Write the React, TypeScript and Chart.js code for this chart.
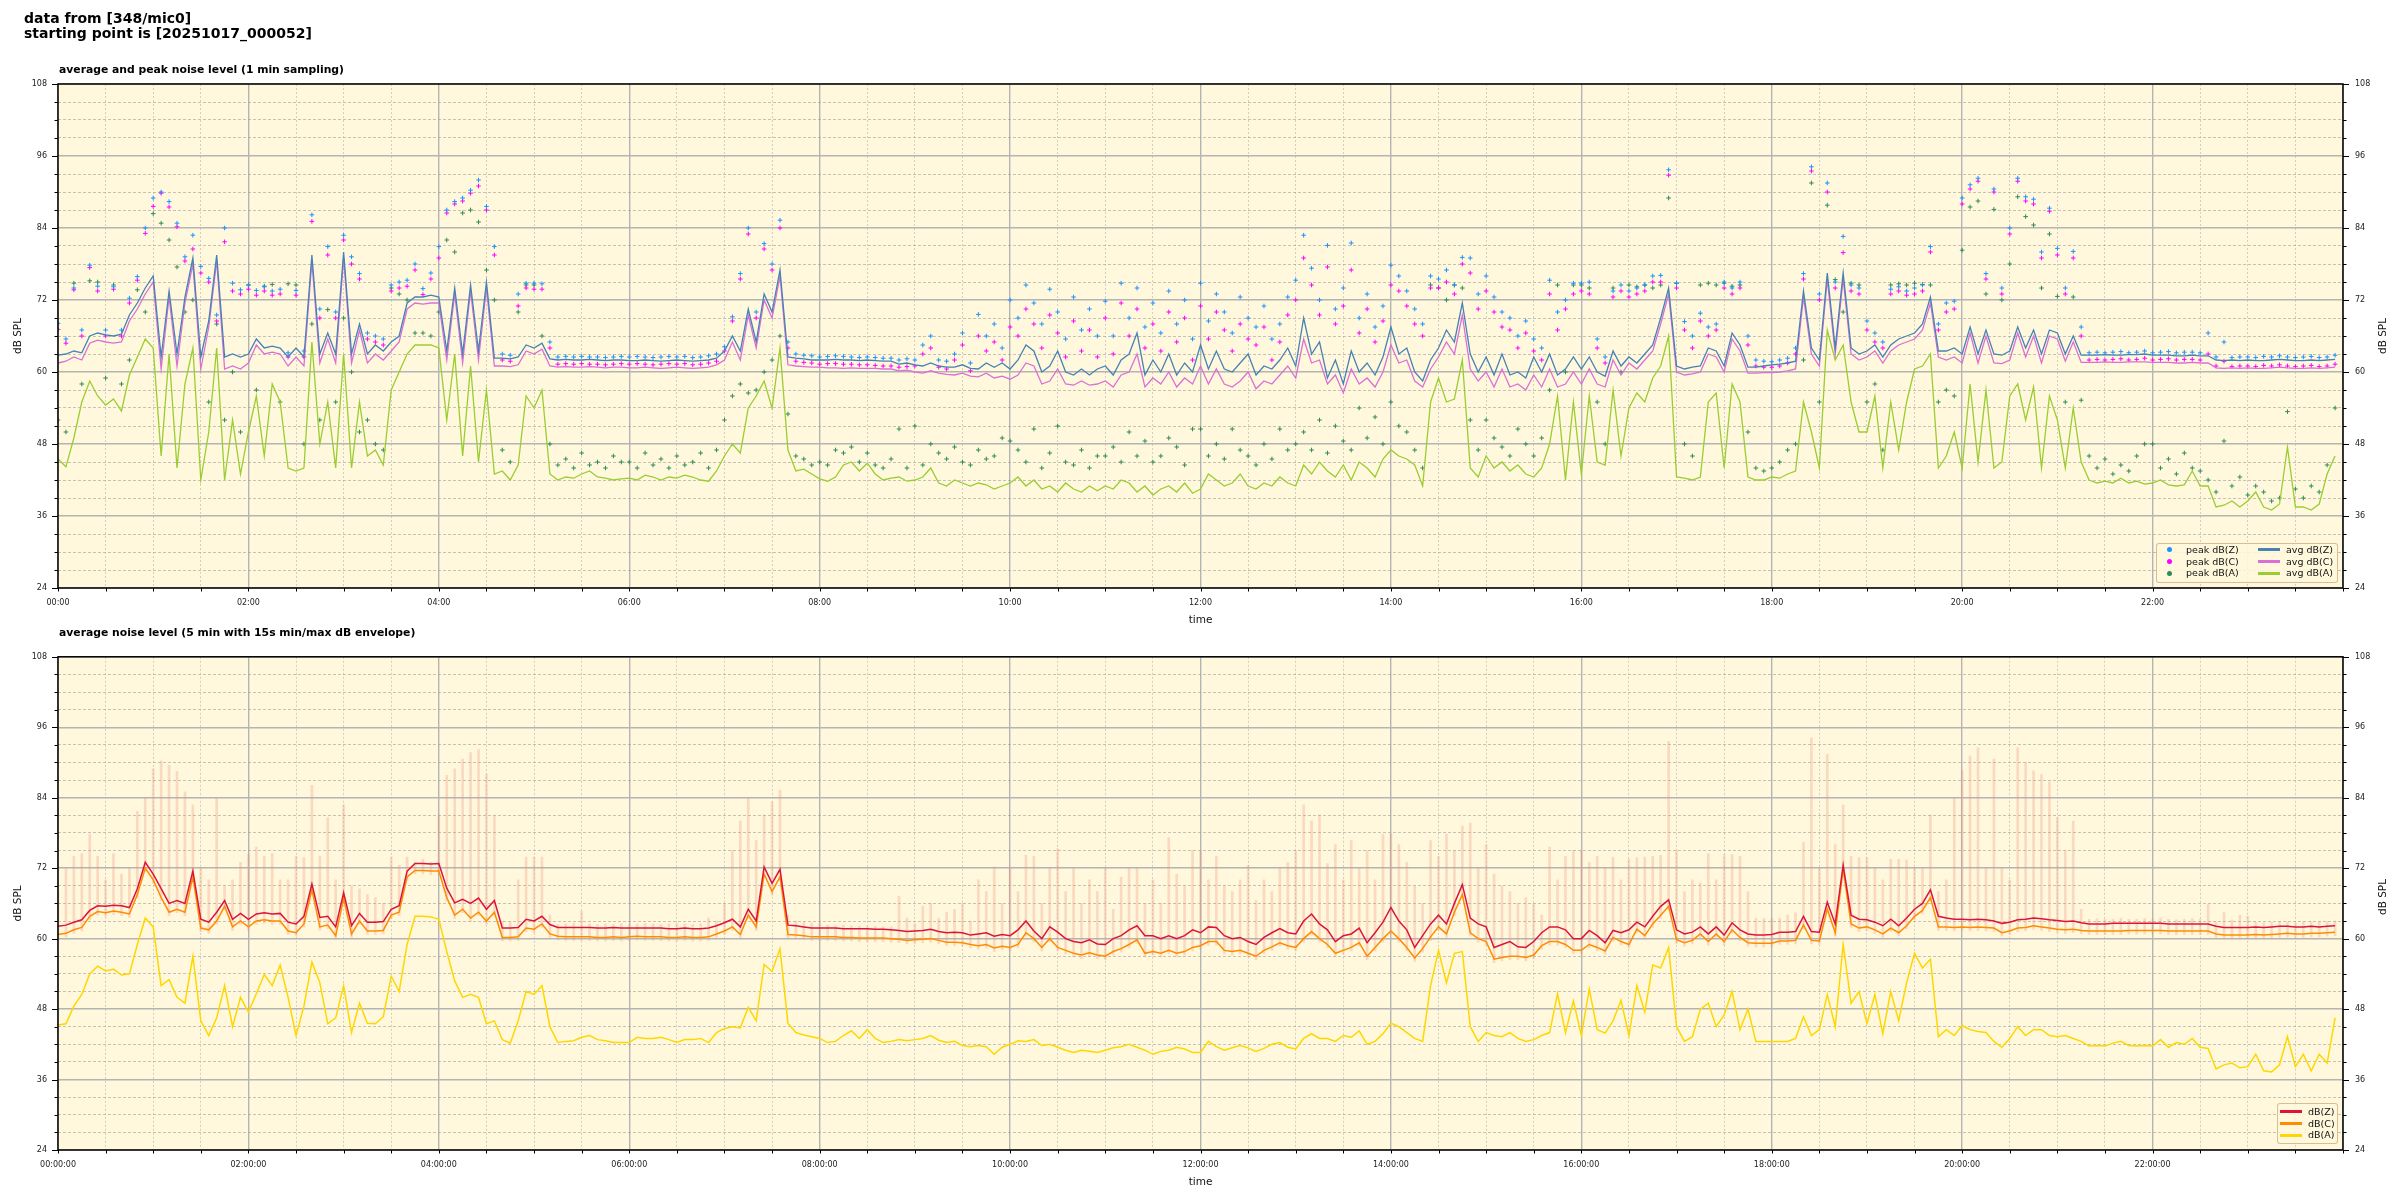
import React, { useEffect, useRef } from "react";
import { Chart, registerables } from "chart.js";

Chart.register(...registerables);

// ---------- categories / tick labels ----------
const STEP_MIN = 5; // one value every 5 minutes
const X_MAX = 1440;
const topTickLabels = ["00:00", "02:00", "04:00", "06:00", "08:00", "10:00", "12:00", "14:00", "16:00", "18:00", "20:00", "22:00"];
const bottomTickLabels = ["00:00:00", "02:00:00", "04:00:00", "06:00:00", "08:00:00", "10:00:00", "12:00:00", "14:00:00", "16:00:00", "18:00:00", "20:00:00", "22:00:00"];
const yTickLabels = ["24", "36", "48", "60", "72", "84", "96", "108"];

// ---------- top chart: 1 min sampling (read every 5 min) ----------
const avgZ = [
  62.8, 63.0, 63.5, 63.2, 66.0, 66.5, 66.2, 66.0, 66.3, 69.5, 71.5, 74.0,
  76.0, 62.5, 73.5, 63.0, 72.5, 79.0, 62.5, 68.5, 79.5, 62.5, 63.0, 62.5,
  63.0, 65.5, 64.0, 64.3, 64.0, 62.5, 64.0, 62.5, 79.5, 63.0, 66.5, 63.0,
  80.0, 63.0, 68.0, 63.0, 64.5, 63.5, 65.0, 66.0, 71.5, 72.5, 72.5, 72.8,
  72.5, 63.5, 74.0, 63.0, 74.5, 63.5, 75.0, 62.3, 62.3, 62.2, 62.5, 64.5,
  64.0, 64.8, 62.2, 62.0, 62.1, 62.0, 62.0, 62.1, 62.0, 61.9, 62.0, 62.0,
  61.9, 61.9, 62.0, 61.9, 61.8, 61.9, 62.0, 61.9, 61.8, 61.9, 62.0, 62.3,
  63.5, 66.0, 63.5, 70.5, 65.0, 73.0, 70.0, 77.0, 62.5, 62.3, 62.2, 62.0,
  62.0, 62.0, 62.1, 62.0, 62.0, 61.9, 62.0, 61.9, 61.8, 61.8, 61.3, 61.5,
  61.2, 61.0, 61.5, 61.0, 60.8, 60.8, 61.2, 60.6, 60.5, 61.5, 60.8, 61.5,
  60.5, 62.0, 64.5, 63.5, 60.0, 61.0, 63.5, 60.0, 59.5, 60.5, 59.5, 60.5,
  61.0, 59.5, 62.0, 63.0, 66.5, 59.5, 62.0, 60.0, 63.0, 59.5, 61.5, 60.0,
  64.5, 60.5, 63.5, 60.5, 60.0, 61.5, 63.0, 59.5, 61.0, 60.5, 62.0, 64.0,
  61.0, 69.0, 63.0, 65.0, 59.0, 62.0, 58.0, 63.5, 60.0, 61.5, 59.5, 62.5,
  67.5, 63.0, 64.0, 60.0, 58.5, 62.0, 64.0, 67.0, 65.0, 71.5, 63.0, 60.0,
  62.5, 59.5, 63.0, 59.5, 60.0, 59.0, 62.5, 60.0, 63.0, 59.5, 60.5, 62.5,
  60.5, 62.5, 60.0, 59.3, 63.5, 61.0, 62.5, 61.5, 63.0, 64.5, 69.0, 74.0,
  61.0, 60.5, 60.8, 61.0, 64.0, 63.5, 61.0, 66.5, 64.5, 60.8, 60.8, 61.0,
  61.2, 61.3, 61.5, 61.8, 73.5, 64.0, 62.0, 76.5, 64.0, 76.5, 64.0, 63.0,
  63.5, 64.5, 62.5, 64.5, 65.5, 66.0, 66.5, 68.0, 72.5, 63.5, 63.5, 64.0,
  63.0, 67.5, 63.0, 67.0, 63.0, 62.8, 63.5, 67.5, 64.0, 67.0, 63.0, 67.0,
  66.5, 63.0, 66.0, 62.8, 62.8, 62.8, 62.9, 62.8, 62.8, 62.9, 62.9, 63.0,
  62.8, 62.8, 62.8, 62.7, 62.7, 62.8, 62.7, 62.7, 62.0, 61.9, 62.0, 61.9,
  62.0, 61.9, 61.9, 62.0, 62.1, 62.0, 61.9, 61.9, 62.0, 61.9, 62.0, 62.1,
];
const avgC = [
  61.5, 61.8, 62.5, 62.0, 64.8, 65.3, 65.0, 64.8, 65.0, 68.5, 70.5, 73.0,
  75.0, 60.5, 72.5, 61.0, 71.5, 78.0, 60.5, 67.5, 78.5, 60.5, 61.0, 60.5,
  61.5, 64.5, 63.0, 63.3, 63.0, 61.0, 62.5, 61.0, 78.5, 61.5, 65.5, 61.5,
  79.0, 61.5, 67.0, 61.5, 63.0, 62.0, 63.5, 65.0, 70.5, 71.5, 71.3, 71.5,
  71.5, 62.0, 73.0, 61.5, 73.5, 62.0, 74.0, 61.0, 61.0, 60.9, 61.2, 63.5,
  63.0, 63.8, 61.0, 60.8, 60.9, 60.8, 60.8, 60.9, 60.8, 60.7, 60.8, 60.8,
  60.7, 60.7, 60.8, 60.7, 60.6, 60.7, 60.8, 60.7, 60.6, 60.7, 60.8, 61.2,
  62.0, 65.0, 62.0, 69.5, 64.0, 72.0, 69.0, 76.0, 61.2, 61.0, 60.9, 60.8,
  60.8, 60.7, 60.7, 60.6, 60.7, 60.6, 60.6, 60.6, 60.5, 60.5, 60.2, 60.3,
  60.0, 59.8, 60.2, 59.8, 59.6, 59.5, 59.8, 59.3, 59.2, 59.8, 59.0, 59.3,
  58.8, 59.5, 61.5, 61.0, 58.0, 58.5, 60.5, 58.0, 57.8, 58.5, 57.8, 58.0,
  58.5, 57.5, 59.5, 60.0, 63.0, 57.5, 59.0, 58.0, 60.0, 57.5, 59.0, 58.0,
  61.0, 58.0, 60.5, 58.0, 57.5, 58.5, 60.0, 57.2, 58.5, 58.0, 59.5, 61.0,
  59.0, 65.5, 61.5, 62.0, 58.0, 59.5, 56.5, 60.5, 58.0, 59.0, 57.5, 60.0,
  64.5, 61.5, 62.0, 58.5, 57.5, 60.5, 62.5, 65.0, 63.0, 69.5, 60.5, 58.5,
  60.0, 57.5, 60.5, 57.5, 58.0, 57.0, 59.5, 57.5, 60.5, 57.5, 58.0, 60.0,
  58.0, 60.5, 58.0, 57.5, 62.0, 59.5, 61.5, 60.5, 62.0, 63.5, 68.0, 73.0,
  60.0, 59.5, 59.7, 60.0, 63.0, 62.5, 60.0, 65.5, 63.5, 59.8, 59.8, 59.9,
  59.9, 60.0, 60.2, 60.5, 72.5, 63.0, 61.0, 75.5, 63.0, 75.5, 63.0, 62.0,
  62.5, 63.5, 61.5, 63.5, 64.5, 65.0, 65.5, 67.0, 71.5, 62.5, 62.0, 62.5,
  61.5, 66.5, 61.5, 66.0, 61.5, 61.4, 62.0, 66.5, 62.5, 66.0, 61.5, 66.0,
  65.5, 61.8, 65.0, 61.6, 61.6, 61.6, 61.7, 61.6, 61.6, 61.7, 61.7, 61.7,
  61.6, 61.6, 61.6, 61.5, 61.5, 61.6, 61.5, 61.5, 60.7, 60.6, 60.7, 60.6,
  60.7, 60.6, 60.6, 60.7, 60.8, 60.7, 60.6, 60.6, 60.7, 60.6, 60.7, 60.8,
];
const avgA = [
  45.5, 44.2, 49.0, 55.0, 58.5, 56.0, 54.5, 55.5, 53.5, 59.5, 62.5, 65.5,
  64.0, 46.0, 63.0, 44.0, 58.0, 64.0, 42.0, 50.0, 64.0, 42.0, 52.0, 43.0,
  50.0, 56.0, 46.0, 58.0, 55.0, 44.0, 43.5, 44.0, 65.0, 48.0, 55.0, 44.0,
  63.0, 44.0, 55.0, 46.0, 47.0, 44.5, 57.0, 60.0, 63.0, 64.5, 64.5, 64.5,
  64.0, 52.0, 63.0, 46.0, 61.0, 45.0, 57.0, 43.0, 43.5, 42.0, 44.5, 56.0,
  54.0, 57.0, 43.0, 42.0, 42.5, 42.3, 43.0, 43.5, 42.5, 42.3, 42.0, 42.2,
  42.3, 42.0, 42.8, 42.5, 42.0, 42.5, 42.3, 42.8, 42.5, 42.0, 41.8, 43.5,
  46.0, 48.0, 46.5, 54.0, 56.0, 58.5, 54.0, 64.0, 47.0, 43.5, 43.8, 43.0,
  42.2, 41.8, 42.5, 44.5, 45.0, 43.5, 44.8, 43.0, 42.0, 42.3, 42.5, 41.8,
  42.0, 42.5, 44.0, 41.5, 41.0, 42.0, 41.5, 41.0, 41.5, 41.2, 40.5, 41.0,
  41.5, 42.5, 41.0, 42.0, 40.5, 41.0, 40.0, 41.5, 40.5, 40.0, 41.0, 40.2,
  41.0, 40.5, 42.0, 41.5, 40.0, 41.0, 39.5, 40.5, 41.0, 40.0, 41.5, 39.8,
  40.5, 43.0, 42.0, 41.0, 41.5, 43.0, 41.0, 40.5, 41.5, 41.0, 42.5, 41.5,
  41.0, 44.5, 43.0, 45.0, 43.5, 42.5, 44.5, 42.0, 45.0, 44.0, 42.5, 45.5,
  47.0, 46.0, 45.5, 44.5, 41.0, 55.0, 59.0, 55.0, 55.5, 62.0, 44.0, 42.5,
  46.0, 44.0, 45.0, 43.5, 44.5, 43.0, 42.5, 44.0, 48.0, 56.0, 42.0, 55.0,
  43.0, 56.0, 45.0, 44.5, 57.0, 46.0, 54.0, 56.5, 55.0, 59.0, 61.0, 66.0,
  42.5, 42.3, 42.0, 42.5, 55.0, 56.5, 44.0, 58.0, 55.0, 42.5, 42.0, 42.0,
  42.5, 42.3, 43.0, 43.5, 55.0, 50.0, 44.0, 67.0, 62.0, 64.5, 55.0, 50.0,
  50.0, 56.0, 44.0, 55.0, 47.0, 55.0, 60.5, 61.0, 63.0, 44.0, 46.0, 50.0,
  44.0, 58.0, 45.0, 57.0, 44.0, 45.0, 56.0, 58.0, 52.0, 57.5, 44.0, 56.0,
  52.0, 44.0, 54.0, 45.0, 42.0, 41.5, 41.8, 41.5, 42.3, 41.5, 41.8, 41.3,
  41.5, 42.0, 41.2, 41.0, 41.2, 43.5, 41.0, 41.0, 37.5, 37.8, 38.5, 37.5,
  38.5, 40.0, 37.5, 37.0, 38.0, 47.5, 37.5, 37.5, 37.0, 38.0, 43.0, 46.0,
];
const peakZ = [
  68.1, 65.5, 74.0, 67.0, 77.8, 74.3, 67.0, 74.2, 67.0, 72.3, 75.9, 84.0,
  89.0, 90.0, 88.4, 84.8, 79.2, 82.8, 77.6, 75.6, 69.5, 84.0, 74.8, 73.7,
  74.5, 73.6, 74.2, 73.5, 73.8, 63.2, 73.6, 63.5, 86.2, 70.5, 80.9, 70.0,
  82.8, 79.2, 76.4, 66.5, 66.0, 65.5, 74.5, 75.0, 75.3, 78.0, 73.9, 76.5,
  80.9, 87.0, 88.4, 89.0, 90.3, 92.0, 87.6, 80.9, 63.0, 62.8, 73.0, 74.8,
  74.8, 74.7, 65.0, 62.5, 62.6, 62.5, 62.6, 62.5, 62.5, 62.4, 62.5, 62.6,
  62.5, 62.6, 62.5, 62.4, 62.5, 62.6, 62.5, 62.6, 62.4, 62.5, 62.7, 63.0,
  64.2, 69.2, 76.4, 84.0, 70.0, 81.4, 78.0, 85.3, 65.0, 63.0, 62.8, 62.7,
  62.5, 62.6, 62.7, 62.6, 62.5, 62.4, 62.5, 62.4, 62.3, 62.3, 62.0, 62.2,
  62.0, 64.5, 66.0, 62.0, 61.8, 63.0, 66.5, 61.5, 69.6, 66.0, 68.0, 64.0,
  72.0, 69.0, 74.5, 71.5, 68.0, 73.8, 70.0, 65.5, 72.5, 67.0, 70.5, 66.0,
  71.8, 66.0, 74.8, 69.0, 74.0, 67.5, 71.5, 66.5, 73.5, 68.0, 72.0, 65.5,
  74.8, 68.5, 73.0, 70.0, 66.5, 72.5, 69.0, 67.5, 71.0, 65.5, 68.0, 72.5,
  75.3, 82.8, 77.3, 72.0, 81.1, 70.5, 74.0, 81.5, 69.0, 73.0, 67.5, 71.0,
  77.8, 76.0, 73.5, 70.5, 68.0, 76.0, 75.5, 77.0, 74.5, 79.1, 79.0, 73.0,
  76.0, 72.5, 70.0, 69.0, 66.0, 68.5, 65.5, 64.0, 75.3, 70.0, 72.0, 74.8,
  74.8, 75.0, 65.5, 62.5, 73.5, 74.5, 73.5, 74.0, 74.5, 76.0, 76.1, 93.7,
  74.8, 68.4, 66.0, 69.8, 67.5, 68.0, 75.0, 74.0, 75.0, 66.0, 62.0, 61.8,
  61.7, 62.0, 62.3, 64.0, 76.4, 94.2, 73.0, 91.5, 75.0, 82.6, 74.5, 74.0,
  68.5, 66.5, 65.0, 73.8, 74.2, 73.5, 74.0, 74.5, 80.9, 68.0, 71.5, 71.8,
  89.0, 91.2, 92.3, 76.4, 90.5, 74.0, 84.0, 92.3, 89.2, 88.8, 80.0, 87.3,
  80.6, 74.0, 80.1, 67.5, 63.2, 63.3, 63.2, 63.3, 63.4, 63.2, 63.3, 63.5,
  63.2, 63.3, 63.4, 63.2, 63.3, 63.3, 63.2, 66.5, 62.5, 65.0, 62.4, 62.5,
  62.5, 62.4, 62.6, 62.5, 62.7, 62.5, 62.4, 62.5, 62.6, 62.4, 62.5, 62.8,
];
const peakC = [
  67.1, 64.8, 73.7, 66.0, 77.4, 73.5, 66.0, 73.8, 66.0, 71.5, 75.3, 83.1,
  87.6, 89.8, 87.5, 84.2, 78.5, 80.5, 76.5, 75.0, 68.5, 81.7, 73.5, 73.0,
  73.8, 72.8, 73.5, 72.8, 73.0, 62.5, 72.8, 62.5, 85.1, 69.0, 79.5, 69.0,
  82.0, 78.0, 75.5, 65.5, 65.0, 64.5, 73.5, 74.0, 74.3, 77.0, 72.9, 75.5,
  79.0, 86.5, 88.0, 88.5, 89.8, 91.0, 87.0, 79.5, 62.0, 61.8, 71.0, 74.0,
  73.8, 73.8, 64.0, 61.3, 61.4, 61.3, 61.4, 61.3, 61.3, 61.2, 61.3, 61.4,
  61.3, 61.4, 61.3, 61.2, 61.3, 61.4, 61.3, 61.4, 61.2, 61.3, 61.5, 61.8,
  63.5, 68.5, 75.5, 83.0, 69.0, 80.5, 77.0, 84.0, 64.0, 61.8, 61.6, 61.5,
  61.3, 61.4, 61.4, 61.3, 61.3, 61.2, 61.2, 61.1, 61.0, 61.0, 60.8, 60.9,
  61.0, 63.0, 64.0, 60.8, 60.5, 62.0, 64.5, 60.2, 66.0, 63.5, 65.0, 62.0,
  67.5, 66.0, 70.5, 68.0, 64.0, 69.5, 66.5, 62.5, 68.5, 63.5, 67.0, 62.5,
  69.0, 63.0, 71.5, 66.0, 70.5, 64.0, 68.0, 63.5, 70.0, 65.0, 69.0, 62.0,
  71.0, 65.5, 70.0, 67.0, 63.5, 68.0, 65.5, 64.5, 67.5, 62.0, 65.0, 69.5,
  72.0, 79.0, 74.5, 69.5, 77.5, 68.0, 71.0, 77.0, 66.5, 70.5, 65.0, 68.5,
  74.5, 73.5, 71.0, 68.0, 66.0, 74.0, 74.0, 75.0, 73.0, 78.0, 76.5, 70.5,
  73.5, 70.0, 67.5, 67.0, 64.0, 66.5, 63.5, 62.0, 73.0, 67.0, 70.5, 73.0,
  73.5, 73.0, 64.0, 61.5, 72.5, 73.5, 72.5, 73.0, 73.5, 75.0, 75.0, 92.8,
  74.0, 67.0, 64.0, 68.5, 66.0, 67.0, 74.0, 73.0, 74.0, 64.5, 61.0, 60.8,
  60.8, 61.0, 61.5, 63.0, 75.5, 93.5, 72.0, 90.0, 74.0, 79.9, 73.5, 73.0,
  67.0, 65.0, 64.0, 73.0, 73.5, 72.8, 73.0, 73.5, 80.0, 67.0, 70.0, 70.5,
  88.0, 90.5, 91.8, 75.5, 90.0, 73.0, 83.0, 91.8, 88.5, 88.0, 79.0, 86.8,
  79.5, 73.0, 79.0, 66.0, 62.0, 62.1, 62.0, 62.1, 62.2, 62.0, 62.1, 62.3,
  62.0, 62.1, 62.2, 62.0, 62.1, 62.1, 62.0, 63.0, 61.0, 61.8, 60.9, 61.0,
  61.0, 60.9, 61.1, 61.0, 61.2, 61.0, 60.9, 61.0, 61.1, 60.9, 61.0, 61.3,
];
const peakA = [
  52.0, 50.0, 74.8, 58.0, 75.2, 75.0, 59.0, 74.5, 58.0, 62.0, 73.7, 70.0,
  86.4, 84.8, 82.0, 77.5, 70.0, 72.0, 63.0, 55.0, 68.0, 52.0, 60.0, 50.0,
  74.5, 57.0, 74.3, 74.6, 55.0, 74.7, 74.5, 48.0, 68.0, 52.0, 70.4, 55.0,
  69.0, 60.0, 50.0, 52.0, 48.0, 47.0, 74.0, 73.0, 72.0, 66.5, 66.5, 66.0,
  70.0, 82.0, 80.0, 86.5, 87.0, 85.0, 77.0, 72.0, 47.0, 45.0, 70.0, 74.5,
  74.5, 66.0, 48.0, 44.5, 45.5, 44.0, 46.5, 44.5, 45.0, 44.0, 46.0, 45.0,
  45.0, 44.0, 46.5, 44.5, 45.5, 44.0, 46.0, 44.5, 45.0, 46.5, 44.0, 47.0,
  52.0, 56.0, 58.0, 56.5, 57.0, 60.0, 62.0, 66.0, 53.0, 46.0, 45.5, 44.5,
  45.0, 44.5, 47.0, 46.5, 47.5, 45.0, 46.5, 44.5, 44.0, 45.5, 50.5, 44.0,
  51.0, 44.5, 48.0, 46.5, 45.5, 47.5, 45.0, 44.5, 47.0, 45.5, 46.0, 49.0,
  48.5, 47.0, 45.0, 50.5, 44.0, 46.5, 51.0, 45.0, 44.5, 47.0, 44.0, 46.0,
  46.0, 47.5, 45.0, 50.0, 46.0, 48.5, 45.0, 46.0, 49.0, 47.5, 44.5, 50.5,
  50.5, 46.0, 48.0, 45.5, 50.5, 47.0, 46.0, 44.5, 48.0, 45.5, 50.5, 47.0,
  48.0, 50.0, 47.0, 52.0, 46.5, 51.0, 48.5, 47.0, 54.0, 49.0, 52.5, 48.0,
  55.0, 51.0, 50.0, 47.0, 44.0, 74.5, 74.0, 72.0, 74.5, 74.0, 52.0, 47.0,
  52.0, 49.0, 47.5, 46.0, 50.5, 48.0, 46.0, 49.0, 57.0, 74.5, 60.0, 74.5,
  74.5, 74.0, 55.0, 48.0, 74.0, 60.0, 74.5, 74.2, 74.5, 74.0, 74.5, 89.0,
  74.8, 48.0, 46.0, 74.5, 74.8, 74.5, 74.8, 74.3, 74.5, 50.0, 44.0, 43.5,
  44.0, 45.0, 47.0, 48.0, 62.0, 91.5, 55.0, 87.8, 75.4, 70.0, 74.8, 74.5,
  55.0, 58.0, 47.0, 74.5, 74.7, 74.5, 74.8, 74.6, 74.5, 55.0, 57.0, 56.0,
  80.3, 87.5, 88.5, 73.0, 87.1, 72.0, 78.0, 89.2, 85.9, 84.5, 74.0, 83.0,
  72.6, 55.0, 72.5, 55.3, 46.0, 44.0, 45.5, 43.0, 44.5, 43.5, 46.0, 48.0,
  48.0, 44.0, 45.5, 43.0, 46.5, 44.0, 43.5, 42.0, 40.0, 48.5, 41.0, 42.5,
  39.5, 41.0, 40.0, 38.5, 39.0, 53.4, 40.5, 39.0, 41.0, 40.0, 44.5, 54.0,
];

// ---------- bottom chart: 5 min averages + 15 s max envelope ----------
const avg5Z = [
  62.1, 62.3, 62.8, 63.2, 64.8, 65.6, 65.5, 65.7, 65.6, 65.3, 68.5, 73.0,
  71.0, 68.5, 66.0, 66.5, 66.0, 71.5, 63.3, 62.8, 64.5, 66.5, 63.3, 64.3,
  63.3, 64.2, 64.4, 64.2, 64.3, 62.8, 62.5, 63.8, 69.3, 63.6, 63.8, 62.0,
  67.8, 62.2, 64.3, 62.8, 62.8, 62.9, 65.0, 65.6, 71.5, 72.8, 72.8, 72.7,
  72.8, 68.6, 66.1, 66.7, 66.0, 66.9, 65.0, 66.5, 61.8, 61.8, 61.9, 63.3,
  63.0, 63.8, 62.4, 61.9, 61.9, 61.9, 61.9, 61.9, 61.8, 61.8, 61.9, 61.8,
  61.8, 61.8, 61.8, 61.8, 61.8, 61.7, 61.7, 61.8, 61.7, 61.7, 61.8, 62.2,
  62.7, 63.3, 62.0, 65.0, 63.0, 72.2, 69.4, 71.8, 62.3, 62.2, 62.0, 61.8,
  61.8, 61.8, 61.8, 61.7, 61.7, 61.7, 61.7, 61.6, 61.6, 61.5, 61.4, 61.2,
  61.3, 61.4, 61.6, 61.2, 61.0, 61.1, 61.0, 60.6, 60.8, 61.0, 60.4, 60.7,
  60.5, 61.5, 63.0, 61.3, 60.0, 62.0, 61.1, 60.0, 59.5, 59.3, 59.8, 59.1,
  59.0, 60.0, 60.5, 61.5, 62.2, 60.5, 60.5, 60.0, 60.5, 60.0, 60.5, 61.5,
  61.0, 62.0, 61.9, 60.5, 60.0, 60.2, 59.5, 59.0, 60.2, 61.0, 61.7, 61.0,
  60.8, 63.0, 64.2, 62.5, 61.5, 59.5, 60.5, 60.8, 61.8, 59.3, 61.0, 62.8,
  65.3, 63.0, 61.5, 58.5, 60.5, 62.5, 64.0, 62.5, 66.0, 69.2, 63.5, 62.5,
  62.0, 58.5, 59.0, 59.5, 58.6, 58.5, 59.5, 61.0, 62.0, 62.0, 61.5, 60.0,
  60.0, 61.4, 60.5, 59.3, 61.4, 61.0, 61.5, 62.8, 62.0, 63.8, 65.5, 66.6,
  61.5, 60.8, 61.1, 62.0, 60.8, 62.0, 60.6, 62.7, 61.5, 60.8, 60.6, 60.6,
  60.7, 61.1, 61.1, 61.2, 63.8, 61.2, 61.1, 66.2, 62.5, 72.5, 64.0, 63.3,
  63.2, 62.8, 62.2, 63.3, 62.2, 63.5, 65.0, 66.0, 68.3, 63.8, 63.5, 63.3,
  63.3, 63.2, 63.3, 63.2, 63.0, 62.6, 62.8, 63.2, 63.3, 63.5, 63.4, 63.2,
  63.1, 62.9, 63.0, 62.7, 62.5, 62.5, 62.5, 62.6, 62.6, 62.6, 62.6, 62.6,
  62.6, 62.6, 62.5, 62.5, 62.5, 62.5, 62.5, 62.5, 62.1, 61.9, 61.9, 61.9,
  61.9, 62.0, 61.9, 62.0, 62.1, 62.1, 62.0, 62.0, 62.1, 62.0, 62.1, 62.2,
];
const avg5C = [
  60.7, 60.9, 61.5, 61.9, 63.8, 64.6, 64.4, 64.7, 64.5, 64.2, 67.5, 72.0,
  70.0, 67.0, 64.5, 65.0, 64.5, 70.5, 61.8, 61.5, 63.0, 65.5, 62.0, 63.0,
  62.0, 63.0, 63.2, 63.0, 63.0, 61.3, 61.0, 62.5, 68.3, 62.0, 62.3, 60.5,
  66.8, 60.8, 63.0, 61.3, 61.3, 61.4, 64.0, 64.5, 70.5, 71.6, 71.6, 71.5,
  71.5, 67.0, 64.0, 65.0, 63.5, 64.5, 63.0, 64.5, 60.2, 60.2, 60.3, 61.8,
  61.6, 62.5, 60.8, 60.4, 60.3, 60.3, 60.3, 60.3, 60.2, 60.2, 60.3, 60.2,
  60.3, 60.4, 60.3, 60.3, 60.3, 60.2, 60.2, 60.3, 60.2, 60.2, 60.3, 60.8,
  61.3, 62.0, 60.7, 64.0, 62.0, 71.0, 68.0, 70.5, 60.7, 60.6, 60.5, 60.3,
  60.3, 60.3, 60.3, 60.2, 60.2, 60.1, 60.1, 60.1, 60.1, 60.0, 59.9, 59.7,
  59.8, 59.9, 60.0, 59.7, 59.4, 59.4, 59.3, 59.0, 58.8, 59.0, 58.4, 58.7,
  58.5, 59.0, 61.0, 60.0, 58.5, 60.0, 58.5, 58.0, 57.5, 57.2, 57.6, 57.2,
  57.0, 57.8, 58.3, 59.0, 59.8, 57.5, 57.8, 57.5, 58.0, 57.5, 57.8, 58.5,
  58.8, 59.5, 59.5, 58.0, 57.8, 58.0, 57.5, 57.0, 58.0, 58.6, 59.3, 58.8,
  58.5, 60.0, 61.2, 60.0, 59.0, 57.5, 58.0, 58.5, 59.3, 57.0, 58.5, 60.0,
  61.3, 60.0, 58.5, 56.7, 58.3, 60.3, 62.0, 60.8, 64.5, 67.5, 61.0, 60.0,
  59.5, 56.5, 56.8, 57.0, 57.0, 56.8, 57.2, 58.8, 59.5, 59.5, 59.0, 58.0,
  58.0, 59.0, 58.5, 57.9, 60.2, 59.5, 59.0, 61.6, 60.5, 62.5, 64.0, 65.5,
  59.8, 59.3, 59.7, 60.8, 59.5, 60.8, 59.5, 61.5, 60.2, 59.3, 59.2, 59.2,
  59.2, 59.6, 59.6, 59.7, 62.3, 59.7, 59.6, 65.0, 61.0, 71.8, 62.5, 61.8,
  62.0, 61.5, 60.8, 61.8, 61.0, 62.2, 63.8, 64.8, 67.0, 62.0, 62.0, 61.9,
  62.0, 61.9, 62.0, 61.9, 61.8, 61.0, 61.3, 61.8, 61.9, 62.2, 62.0, 61.8,
  61.6, 61.5, 61.6, 61.4, 61.3, 61.3, 61.3, 61.3, 61.3, 61.4, 61.4, 61.4,
  61.4, 61.4, 61.3, 61.3, 61.3, 61.3, 61.3, 61.3, 60.8, 60.6, 60.6, 60.6,
  60.6, 60.7, 60.6, 60.7, 60.8, 60.9, 60.8, 60.8, 60.9, 60.9, 61.0, 61.1,
];
const avg5A = [
  45.3, 45.5, 48.5, 50.5, 54.0, 55.3, 54.5, 54.8, 53.8, 54.0, 59.0, 63.5,
  62.0, 52.0, 53.0, 50.0, 49.0, 57.0, 46.0, 43.5, 46.5, 52.0, 45.0, 50.0,
  47.5, 50.6, 53.9, 52.0, 55.5, 50.0, 43.5, 48.5, 56.0, 52.5, 45.5, 46.5,
  52.0, 44.0, 49.0, 45.6, 45.5, 46.7, 53.6, 51.0, 59.0, 63.8, 63.8, 63.7,
  63.3, 57.8, 52.8, 50.0, 50.5, 50.0, 45.5, 46.0, 42.8, 42.2, 46.0, 51.0,
  50.5, 52.0, 45.0, 42.3, 42.5, 42.6, 43.2, 43.5, 42.8, 42.6, 42.3, 42.3,
  42.3, 43.2, 43.0, 43.0, 43.2, 42.8, 42.3, 42.8, 42.8, 43.0, 42.3, 44.0,
  44.7, 45.0, 44.8, 48.3, 46.0, 55.6, 54.4, 58.3, 45.6, 44.0, 43.6, 43.3,
  43.0, 42.3, 42.5, 43.5, 44.3, 43.0, 44.5, 43.0, 42.3, 42.5, 42.8, 42.6,
  42.8, 43.0, 43.5, 42.7, 42.3, 42.5, 41.8, 41.6, 41.8, 41.6, 40.3, 41.5,
  42.0, 42.6, 42.5, 42.8, 41.8, 42.0, 41.5, 41.0, 40.6, 41.0, 40.8, 40.6,
  41.0, 41.4, 41.6, 42.0, 41.5, 41.0, 40.3, 40.8, 41.0, 41.5, 41.2, 40.6,
  40.6, 42.5, 41.6, 41.0, 41.4, 41.8, 41.4, 40.8, 41.3, 42.0, 42.3, 41.5,
  41.2, 43.0, 43.8, 43.0, 43.0, 42.5, 43.5, 43.2, 44.3, 42.0, 42.5, 43.8,
  45.6, 45.0, 44.0, 43.0, 42.5, 52.0, 58.0, 52.5, 57.5, 57.8, 45.0, 42.5,
  44.0, 43.5, 43.3, 44.0, 43.0, 42.5, 42.8, 43.5, 44.0, 50.6, 44.0, 49.4,
  43.5, 51.4, 44.5, 43.9, 46.0, 49.5, 43.5, 52.0, 47.5, 55.5, 55.0, 58.5,
  45.0, 42.5, 43.3, 48.0, 49.0, 45.0, 47.0, 51.0, 44.5, 48.0, 42.5, 42.5,
  42.5, 42.5, 42.5, 43.0, 46.7, 43.5, 44.5, 50.5, 45.0, 59.0, 49.0, 51.0,
  45.5, 50.5, 43.8, 51.0, 46.0, 52.5, 57.5, 55.0, 56.5, 43.3, 44.5, 43.5,
  45.2, 44.5, 44.2, 44.0, 42.5, 41.5, 43.0, 45.0, 43.5, 44.5, 44.5, 43.5,
  43.3, 43.5, 43.0, 42.5, 41.7, 41.8, 41.7, 42.2, 42.5, 41.8, 41.7, 41.8,
  41.7, 42.8, 41.5, 42.3, 42.0, 43.0, 41.5, 41.3, 37.8, 38.5, 38.8, 38.0,
  38.2, 40.3, 37.5, 37.3, 38.5, 43.3, 38.2, 40.3, 37.5, 40.3, 38.8, 46.5,
];
const envMax = [
  68.0, 72.0, 74.0, 74.5, 77.8, 74.0, 70.0, 74.5, 71.0, 72.0, 81.7, 84.0,
  88.9, 90.3, 89.5, 88.5, 85.0, 82.8, 72.0, 70.0, 83.9, 69.0, 70.0, 73.0,
  74.4, 75.6, 74.0, 74.5, 70.0, 70.0, 74.0, 73.8, 86.1, 74.0, 80.6, 70.0,
  82.8, 69.0, 68.5, 67.5, 67.0, 66.0, 73.9, 72.5, 73.9, 73.0, 73.5, 73.0,
  81.1, 87.8, 88.9, 90.6, 91.7, 92.2, 88.0, 81.0, 63.0, 62.8, 70.0, 73.9,
  73.9, 73.9, 64.0, 62.4, 62.5, 62.6, 64.7, 62.5, 62.4, 62.5, 62.4, 62.5,
  62.4, 62.5, 62.6, 62.5, 62.4, 62.5, 62.6, 62.5, 62.4, 62.5, 63.5, 63.0,
  66.0, 75.0, 80.0, 83.9, 76.7, 81.1, 83.3, 85.3, 64.0, 63.0, 62.8, 62.7,
  62.5, 62.3, 62.2, 62.3, 62.2, 62.2, 62.1, 62.1, 62.0, 62.0, 67.2, 63.5,
  62.5, 65.5, 66.0, 63.5, 64.5, 65.0, 66.0, 63.0, 70.0, 68.0, 72.2, 66.0,
  72.0, 68.0, 74.2, 74.0, 66.0, 72.0, 75.3, 68.0, 72.0, 66.0, 70.0, 68.0,
  72.0, 65.0, 70.5, 72.0, 72.0, 66.0, 70.0, 66.0, 77.2, 71.0, 69.0, 75.0,
  75.0, 70.0, 74.0, 69.0, 68.0, 70.0, 72.5, 66.5, 70.0, 68.0, 72.0, 73.0,
  75.0, 82.8, 80.0, 81.1, 72.8, 76.0, 70.0, 76.7, 72.0, 75.0, 70.0, 77.8,
  77.8, 76.0, 73.0, 69.0, 66.0, 76.7, 74.0, 77.8, 75.0, 79.2, 79.7, 72.0,
  76.0, 71.0, 69.0, 68.0, 66.0, 67.0, 66.0, 64.0, 75.6, 70.0, 74.0, 75.0,
  75.0, 73.0, 74.0, 72.0, 73.9, 70.0, 73.5, 73.8, 73.9, 74.0, 74.2, 93.6,
  75.0, 68.0, 70.0, 69.5, 74.5, 70.0, 74.3, 74.3, 74.0, 68.0, 63.5, 63.4,
  63.4, 63.5, 64.0, 64.4, 76.4, 94.2, 72.0, 91.4, 76.0, 82.8, 74.0, 73.8,
  73.8, 72.0, 70.0, 73.5, 73.5, 73.4, 72.0, 72.0, 81.1, 68.0, 70.0, 83.9,
  88.6, 91.1, 92.5, 72.0, 90.6, 72.0, 70.0, 92.5, 90.0, 88.6, 88.0, 86.7,
  80.6, 75.0, 80.0, 65.0, 63.3, 63.4, 63.3, 63.3, 63.5, 63.3, 63.3, 63.4,
  63.3, 63.5, 63.3, 63.2, 63.3, 63.4, 63.3, 65.8, 62.8, 64.5, 63.2, 64.0,
  63.8, 62.8, 62.7, 62.8, 62.9, 62.8, 62.7, 62.8, 62.9, 62.8, 62.9, 63.0,
];

// ---------- styling ----------
const FONT = "DejaVu Sans";
const BG = "#fff8dc";

function toPoints(vals: number[]) {
  return vals.map((v, i) => ({ x: i * STEP_MIN, y: v }));
}
function toRanges(lo: number[], hi: number[]) {
  return hi.map((v, i) => ({ x: i * STEP_MIN, y: [lo[i] - 0.6, v] }));
}

const frameAndTicks = {
  id: "frameAndTicks",
  beforeDraw(chart: any) {
    const { ctx, chartArea: a } = chart;
    ctx.save();
    ctx.fillStyle = BG;
    ctx.fillRect(a.left, a.top, a.right - a.left, a.bottom - a.top);
    ctx.restore();
  },
  afterDraw(chart: any) {
    const { ctx, chartArea: a, scales } = chart;
    ctx.save();
    ctx.strokeStyle = "#000";
    ctx.lineWidth = 1;
    const ys = scales.y;
    for (let v = 24; v <= 108; v += 3) {
      const py = Math.round(ys.getPixelForValue(v)) + 0.5;
      const len = v % 12 === 0 ? 6 : 3.5;
      ctx.beginPath();
      ctx.moveTo(a.left - len, py);
      ctx.lineTo(a.left, py);
      ctx.moveTo(a.right, py);
      ctx.lineTo(a.right + len, py);
      ctx.stroke();
    }
    const xs = scales.x;
    for (let v = 0; v <= X_MAX; v += 30) {
      const px = Math.round(xs.getPixelForValue(v)) + 0.5;
      ctx.beginPath();
      ctx.moveTo(px, a.bottom);
      ctx.lineTo(px, a.bottom + 3.5);
      ctx.stroke();
    }
    ctx.lineWidth = 1.5;
    ctx.strokeRect(a.left, a.top, a.right - a.left, a.bottom - a.top);
    ctx.restore();
  },
};

function makeScales(tickLabels: string[], xHeight: number, titlePadBottom: number) {
  const majX = (c: any) => c.tick && c.tick.value % 120 === 0;
  const majY = (c: any) => c.tick && c.tick.value % 12 === 0;
  const yTick = (v: any) => (v % 12 === 0 ? yTickLabels[(v - 24) / 12] : "");
  return {
    x: {
      type: "linear",
      min: 0,
      max: X_MAX,
      offset: false,
      afterFit: (s: any) => { s.height = xHeight; },
      ticks: {
        stepSize: 30,
        autoSkip: false,
        maxRotation: 0,
        minRotation: 0,
        padding: 10,
        color: "#222",
        font: { family: FONT, size: 8 },
        callback: (v: any) => (v % 120 === 0 && v < X_MAX ? tickLabels[v / 120] : ""),
      },
      grid: {
        offset: false,
        drawTicks: false,
        color: (c: any) => (majX(c) ? "#b4b4b4" : "rgba(175,175,175,0.7)"),
        lineWidth: (c: any) => (majX(c) ? 1.4 : 0.8),
      },
      border: { display: false, dash: (c: any) => (majX(c) ? [] : [2, 2]) },
      title: {
        display: true,
        text: "time",
        color: "#111",
        font: { family: FONT, size: 10.5 },
        padding: { top: 0, bottom: titlePadBottom },
      },
    },
    y: {
      type: "linear",
      position: "left",
      min: 24,
      max: 108,
      afterFit: (s: any) => { s.width = 58; },
      ticks: { stepSize: 3, autoSkip: false, padding: 11, color: "#222", font: { family: FONT, size: 8 }, callback: yTick },
      grid: {
        drawTicks: false,
        color: (c: any) => (majY(c) ? "#b4b4b4" : "rgba(150,150,150,0.7)"),
        lineWidth: (c: any) => (majY(c) ? 1.4 : 0.8),
      },
      border: { display: false, dash: (c: any) => (majY(c) ? [] : [3, 2]) },
      title: {
        display: true,
        text: "dB SPL",
        color: "#111",
        font: { family: FONT, size: 10.5 },
        padding: { top: 11.5, bottom: 0 },
      },
    },
    y2: {
      type: "linear",
      position: "right",
      min: 24,
      max: 108,
      afterFit: (s: any) => { s.width = 57; },
      ticks: { stepSize: 3, autoSkip: false, padding: 12, color: "#222", font: { family: FONT, size: 8 }, callback: yTick },
      grid: { drawOnChartArea: false, drawTicks: false },
      border: { display: false },
    },
  };
}

const lineDs = (label: string, vals: number[], color: string, width: number, order: number) => ({
  type: "line",
  label,
  data: toPoints(vals),
  borderColor: color,
  backgroundColor: color,
  borderWidth: width,
  pointRadius: 0,
  tension: 0,
  fill: false,
  order,
});

const peakDs = (label: string, vals: number[], color: string, order: number) => ({
  type: "line",
  label,
  data: toPoints(vals),
  showLine: false,
  pointStyle: "cross",
  pointRadius: 2.3,
  pointBorderWidth: 1,
  pointBorderColor: color,
  pointBackgroundColor: color,
  borderColor: color,
  backgroundColor: color,
  order,
});

const baseOptions = (paddingTop: number, scales: any) => ({
  responsive: false,
  maintainAspectRatio: false,
  animation: false,
  events: [],
  layout: { padding: { top: paddingTop, left: 0, right: 0, bottom: 0 } },
  plugins: { legend: { display: false }, tooltip: { enabled: false }, title: { display: false } },
  scales,
});

const legendText: React.CSSProperties = { fontFamily: FONT, fontSize: 9.5, color: "#111", lineHeight: "11.7px", whiteSpace: "nowrap" };

export default function App() {
  const topRef = useRef<HTMLCanvasElement>(null);
  const botRef = useRef<HTMLCanvasElement>(null);

  useEffect(() => {
    const top = new Chart(topRef.current as HTMLCanvasElement, {
      type: "line",
      data: {
        datasets: [
          lineDs("avg dB(Z)", avgZ, "#4682b4", 1.3, 1),
          lineDs("avg dB(C)", avgC, "#da70d6", 1.3, 2),
          lineDs("avg dB(A)", avgA, "#9acd32", 1.3, 3),
          peakDs("peak dB(Z)", peakZ, "#1e90ff", 4),
          peakDs("peak dB(C)", peakC, "#ff00ff", 5),
          peakDs("peak dB(A)", peakA, "#2e8b57", 6),
        ],
      } as any,
      options: baseOptions(84, makeScales(topTickLabels, 52, 13.7)) as any,
      plugins: [frameAndTicks as any],
    });
    const bottom = new Chart(botRef.current as HTMLCanvasElement, {
      type: "line",
      data: {
        datasets: [
          lineDs("dB(Z)", avg5Z, "#dc143c", 1.5, 1),
          lineDs("dB(C)", avg5C, "#ff8c00", 1.5, 2),
          lineDs("dB(A)", avg5A, "#ffd700", 1.5, 3),
          {
            type: "bar",
            label: "envelope",
            data: toRanges(avg5C, envMax),
            backgroundColor: "rgba(240,145,125,0.3)",
            borderWidth: 0,
            barThickness: 2,
            grouped: false,
            order: 10,
          },
        ],
      } as any,
      options: baseOptions(5, makeScales(bottomTickLabels, 50, 11.7)) as any,
      plugins: [frameAndTicks as any],
    });
    return () => {
      top.destroy();
      bottom.destroy();
    };
  }, []);

  const abs = (s: React.CSSProperties): React.CSSProperties => ({ position: "absolute", ...s });

  return (
    <div style={abs({ left: 0, top: 0, width: 2400, height: 1200, background: "#fff", overflow: "hidden" })}>
      <canvas ref={topRef} width={2400} height={640} style={abs({ left: 0, top: 0, width: 2400, height: 640 })} />
      <canvas ref={botRef} width={2400} height={560} style={abs({ left: 0, top: 640, width: 2400, height: 560 })} />

      <div style={abs({ left: 24, top: 10.5, fontFamily: FONT, fontWeight: "bold", fontSize: 14, lineHeight: "15px", color: "#000", whiteSpace: "nowrap" })}>
        data from [348/mic0]
        <br />
        starting point is [20251017_000052]
      </div>
      <div style={abs({ left: 59, top: 64.3, fontFamily: FONT, fontWeight: "bold", fontSize: 10.8, lineHeight: "12px", color: "#000", whiteSpace: "nowrap" })}>
        average and peak noise level (1 min sampling)
      </div>
      <div style={abs({ left: 59, top: 627, fontFamily: FONT, fontWeight: "bold", fontSize: 10.8, lineHeight: "12px", color: "#000", whiteSpace: "nowrap" })}>
        average noise level (5 min with 15s min/max dB envelope)
      </div>

      {/* right-side axis titles */}
      <div style={abs({ left: 2382 - 30, top: 336 - 7, width: 60, height: 14, textAlign: "center", transform: "rotate(-90deg)", fontFamily: FONT, fontSize: 10.5, lineHeight: "14px", color: "#111" })}>dB SPL</div>
      <div style={abs({ left: 2382 - 30, top: 897 - 7, width: 60, height: 14, textAlign: "center", transform: "rotate(-90deg)", fontFamily: FONT, fontSize: 10.5, lineHeight: "14px", color: "#111" })}>dB SPL</div>

      {/* top legend */}
      <div style={abs({ left: 2156, top: 543, width: 182, height: 40, boxSizing: "border-box", border: "1px solid rgba(205,170,120,0.75)", borderRadius: 3, background: "rgba(255,248,220,0.85)" })}>
        {[
          ["peak dB(Z)", "#1e90ff", "avg dB(Z)", "#4682b4"],
          ["peak dB(C)", "#ff00ff", "avg dB(C)", "#da70d6"],
          ["peak dB(A)", "#2e8b57", "avg dB(A)", "#9acd32"],
        ].map((r, i) => (
          <React.Fragment key={i}>
            <div style={abs({ left: 2169 - 2156 - 2.5 - 1, top: 1 + i * 11.7 + 5.85 - 2.5 - 1, width: 5, height: 5, borderRadius: "50%", background: r[1] })} />
            <div style={abs({ left: 2186 - 2156 - 1, top: 1 + i * 11.7 - 1, ...legendText })}>{r[0]}</div>
            <div style={abs({ left: 2258 - 2156 - 1, top: 1 + i * 11.7 + 5.85 - 1.5 - 1, width: 22, height: 3, background: r[3] })} />
            <div style={abs({ left: 2286 - 2156 - 1, top: 1 + i * 11.7 - 1, ...legendText })}>{r[2]}</div>
          </React.Fragment>
        ))}
      </div>

      {/* bottom legend */}
      <div style={abs({ left: 2277, top: 1103, width: 61, height: 41, boxSizing: "border-box", border: "1px solid rgba(205,170,120,0.75)", borderRadius: 3, background: "rgba(255,248,220,0.85)" })}>
        {[
          ["dB(Z)", "#dc143c"],
          ["dB(C)", "#ff8c00"],
          ["dB(A)", "#ffd700"],
        ].map((r, i) => (
          <React.Fragment key={i}>
            <div style={abs({ left: 2279 - 2277 - 1 + 1, top: 2.8 + i * 11.7 + 5.85 - 1.5 - 1, width: 22, height: 3, background: r[1] })} />
            <div style={abs({ left: 2308 - 2277 - 1, top: 2.8 + i * 11.7 - 1, ...legendText })}>{r[0]}</div>
          </React.Fragment>
        ))}
      </div>
    </div>
  );
}
